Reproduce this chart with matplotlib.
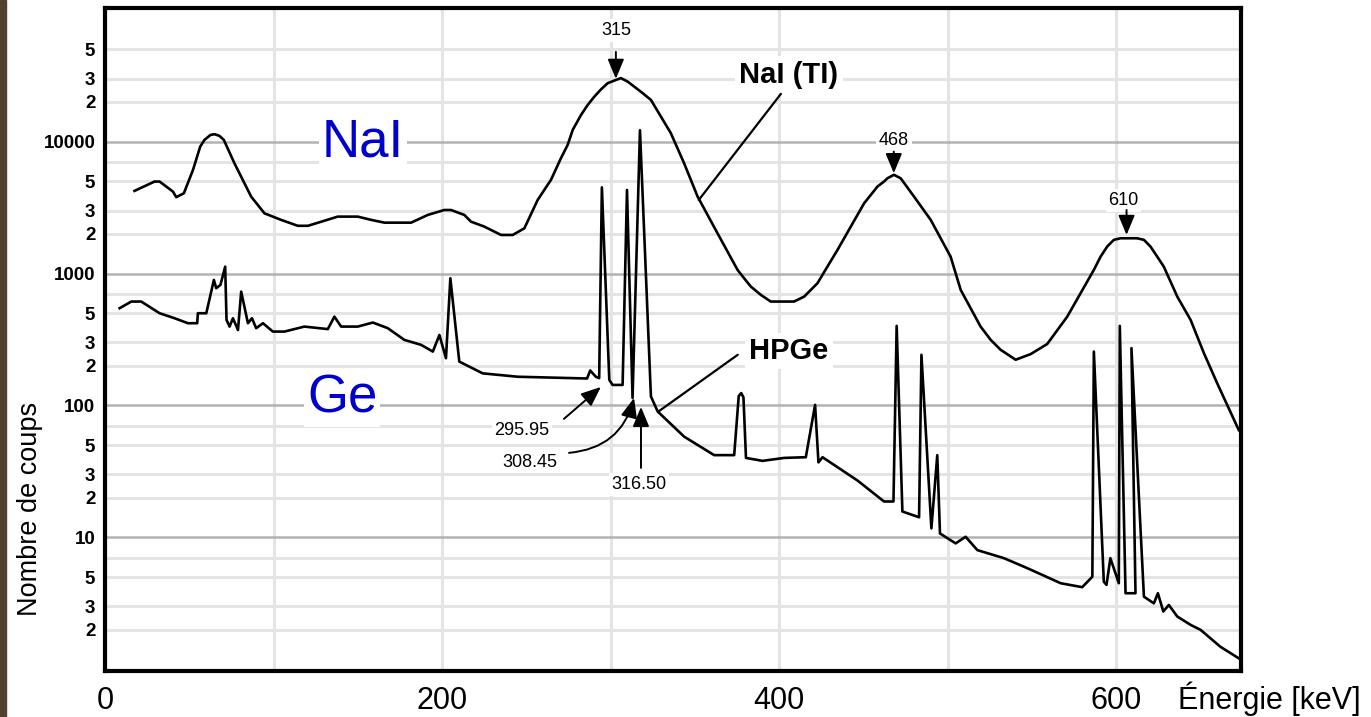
import numpy as np
import matplotlib
matplotlib.use('Agg')
import matplotlib.pyplot as plt
from matplotlib.patches import Rectangle

# spectre NaI(Tl) (energie en keV, nombre de coups)
nai_e = [17.5, 29.4, 32.4, 40.3, 42.3, 46.8, 52.2, 56.5, 59.0, 62.6,
         65.0, 67.9, 70.5, 76.8, 86.7, 94.6, 104.5, 114.4, 120.4, 138.1,
         150.0, 157.9, 165.8, 181.6, 191.5, 201.3, 205.3, 213.2, 217.2, 225.0,
         235.0, 241.9, 248.8, 256.7, 264.6, 270.5, 274.5, 277.5, 282.4, 286.4,
         290.3, 294.3, 298.2, 302.1, 306.1, 310.1, 314.0, 319.0, 323.9, 329.8,
         335.7, 343.6, 351.6, 363.4, 375.3, 379.2, 383.2, 389.1, 395.0, 408.8,
         414.8, 422.7, 428.6, 434.6, 442.5, 450.4, 458.3, 462.2, 464.2, 468.1,
         472.1, 480.0, 489.9, 501.7, 507.7, 519.5, 525.5, 531.4, 540.3, 549.2,
         559.0, 570.9, 586.7, 590.7, 594.6, 596.6, 598.6, 602.5, 612.4, 616.4,
         620.3, 624.3, 628.2, 636.2, 644.1, 652.0, 659.9, 672.7]
nai_c = [4230, 4980, 4980, 4180, 3790, 4060, 6100, 9170, 10300, 11240,
         11380, 11050, 10300, 6850, 3830, 2860, 2550, 2300, 2300, 2700,
         2700, 2550, 2430, 2430, 2780, 3030, 3030, 2780, 2470, 2270,
         1960, 1960, 2200, 3610, 5130, 7480, 9440, 12270, 15900, 18970,
         21900, 24900, 27700, 29000, 30300, 28500, 26100, 23300, 20700, 15500,
         11600, 6850, 3830, 2020, 1065, 920, 796, 689, 613, 613,
         668, 844, 1127, 1510, 2270, 3410, 4560, 4980, 5270, 5600,
         5270, 3830, 2550, 1343, 751, 396, 314, 264, 222, 245,
         292, 471, 1065, 1343, 1600, 1700, 1800, 1850, 1850, 1800,
         1600, 1343, 1127, 668, 445, 249, 147, 65]

# spectre HPGe
ge_e = [8.7, 15.6, 21.5, 32.4, 41.3, 49.2, 54.7, 55.1, 60.1, 64.6, 66.0, 68.5, 71.3, 72.1,
        73.9, 75.9, 78.9, 80.8, 84.8, 87.2, 89.7, 93.7, 99.6, 106.5, 118.3, 132.2, 136.1,
        140.1, 150.0, 158.9, 167.8, 177.6, 187.5, 194.5, 198.4, 202.3, 204.9, 210.2, 224.1,
        244.9, 286.0, 287.9, 291.2, 293.2, 294.8, 299.2, 301.2, 307.1, 309.7, 313.0, 317.4,
        323.9, 327.9, 343.6, 361.4, 373.3, 376.0, 377.5, 378.8, 380.3, 390.1, 402.9, 415.8,
        421.3, 423.3, 425.7, 446.4, 462.2, 467.8, 469.7, 473.1, 483.0, 484.4, 490.3, 493.8,
        495.4, 504.7, 510.6, 517.6, 533.4, 547.2, 567.0, 579.8, 585.8, 586.7, 592.6, 594.2,
        596.5, 601.5, 602.1, 605.5, 611.4, 609.0, 616.4, 622.3, 624.7, 627.9, 631.2, 636.2,
        644.1, 650.0, 661.8, 672.7]
ge_c = [546, 613, 613, 500, 458, 420, 420, 500, 500, 894, 774, 820, 1127, 445,
        396, 458, 373, 729, 420, 458, 385, 420, 363, 363, 396, 379, 471,
        396, 396, 425, 385, 314, 288, 256, 342, 228, 920, 215, 175,
        165, 160, 184, 165, 161, 4500, 156, 143, 143, 4300, 114, 12200,
        117, 90, 58, 42, 42, 118, 124, 115, 40, 38, 40, 40.5,
        101, 37, 40.5, 27, 18.7, 18.7, 401, 15.7, 14.2, 242, 11.7, 42,
        10.7, 9.0, 10.1, 8.0, 6.95, 5.84, 4.49, 4.19, 5.03, 256, 4.61, 4.36,
        6.95, 4.49, 401, 3.77, 3.77, 272, 3.55, 3.16, 3.77, 2.74, 3.07, 2.51,
        2.17, 1.99, 1.48, 1.21]

xticks = [0, 200, 400, 600]
xticks_grid = [100, 300, 500]
yticks_major = [10, 100, 1000, 10000]
yticks_major_labels = ['10', '100', '1000', '10000']
yticks_minor = [2, 3, 5, 7, 20, 30, 50, 70, 200, 300, 500, 700,
                2000, 3000, 5000, 7000, 20000, 30000, 50000]
yticks_minor_labels = ['2', '3', '5', '', '2', '3', '5', '', '2', '3', '5', '',
                       '2', '3', '5', '', '2', '3', '5']

plt.rcParams['font.family'] = ['Liberation Sans', 'DejaVu Sans']

W, H = 1371, 717
fig = plt.figure(figsize=(W / 100, H / 100), dpi=100)
fig.patches.append(Rectangle((0, 0), 6 / W, 1, transform=fig.transFigure,
                             color='#4f4030', zorder=-1))
ax = fig.add_axes([105 / W, 1 - 671 / H, (1241 - 105) / W, (671 - 8) / H])

ax.plot(nai_e, nai_c, color='black', lw=1.9, zorder=3)
ax.plot(ge_e, ge_c, color='black', lw=1.9, zorder=3)

ax.set_yscale('log')
ax.set_xlim(0, 674)
ax.set_ylim(0.97, 1.03e5)

ax.set_xticks(xticks)
ax.set_xticklabels([str(v) for v in xticks], fontsize=22)
ax.set_xticks(xticks_grid, minor=True)
ax.set_yticks(yticks_major)
ax.set_yticklabels(yticks_major_labels)
ax.set_yticks(yticks_minor, minor=True)
ax.set_yticklabels(yticks_minor_labels, minor=True)
ax.tick_params(which='both', length=0)
ax.tick_params(axis='x', which='both', pad=11)
ax.tick_params(axis='y', which='both', pad=7, labelsize=13.5)
for lab in ax.get_yticklabels(which='both'):
    lab.set_fontweight('bold')

ax.set_axisbelow(True)
ax.grid(axis='x', which='both', color='#e4e4e4', lw=2.2)
ax.grid(axis='y', which='major', color='#b2b2b2', lw=1.8)
ax.grid(axis='y', which='minor', color='#e4e4e4', lw=2.2)
for sp in ax.spines.values():
    sp.set_linewidth(3)

wbox = dict(boxstyle='square,pad=0.15', fc='white', ec='none')
wbox_big = dict(boxstyle='square,pad=0.05', fc='white', ec='none')
arrow = dict(arrowstyle='-|>,head_length=0.6,head_width=0.25', color='black', lw=1.4,
             mutation_scale=20, shrinkA=0, shrinkB=0)
leader = dict(arrowstyle='-', color='black', lw=1.6, shrinkA=0, shrinkB=0)

# etiquettes bleues
ax.text(153.1, 7660, 'NaI', color='#0000cd', fontsize=38, ha='center', va='baseline', bbox=wbox_big)
ax.text(140.7, 87.7, 'Ge', color='#0000cd', fontsize=38, ha='center', va='baseline', bbox=wbox_big)

# noms des detecteurs
ax.text(405.7, 27900, 'NaI (TI)', fontsize=21, fontweight='bold', ha='center', va='baseline', bbox=wbox)
ax.annotate('', xy=(352.3, 3610), xytext=(401.0, 23000), arrowprops=leader)
ax.text(405.7, 225, 'HPGe', fontsize=21, fontweight='bold', ha='center', va='baseline', bbox=wbox)
ax.annotate('', xy=(328.1, 89.4), xytext=(375.4, 242), arrowprops=leader)

# pics NaI
ax.text(303.1, 64400, '315', fontsize=13, ha='center', va='baseline', bbox=wbox)
ax.annotate('', xy=(303.1, 29900), xytext=(303.1, 47900), arrowprops=arrow)
ax.text(468.0, 9440, '468', fontsize=13, ha='center', va='baseline', bbox=wbox)
ax.annotate('', xy=(468.0, 5760), xytext=(468.0, 8400), arrowprops=arrow)
ax.text(604.3, 3310, '610', fontsize=13, ha='center', va='baseline', bbox=wbox)
ax.annotate('', xy=(606.1, 1960), xytext=(606.1, 3030), arrowprops=arrow)

# pics HPGe
ax.text(247.5, 59.7, '295.95', fontsize=13, ha='center', va='baseline', bbox=wbox)
ax.annotate('', xy=(294.2, 138), xytext=(272.3, 79.1), arrowprops=arrow)
ax.text(252.1, 34.4, '308.45', fontsize=13, ha='center', va='baseline', bbox=wbox)
ax.annotate('', xy=(313.9, 114), xytext=(275.3, 43.7),
            arrowprops=dict(arrow, connectionstyle='arc3,rad=0.35'))
ax.text(316.8, 23.3, '316.50', fontsize=13, ha='center', va='baseline', bbox=wbox)
ax.annotate('', xy=(318.0, 97.5), xytext=(318.0, 33.6), arrowprops=arrow)

fig.text(1178 / W, 1 - 709 / H, 'Énergie [keV]', fontsize=22, ha='left', va='baseline')
fig.text(30 / W, 1 - 509 / H, 'Nombre de coups', fontsize=19.5, rotation=90,
         ha='center', va='center')

fig.savefig('out.png', dpi=100)
